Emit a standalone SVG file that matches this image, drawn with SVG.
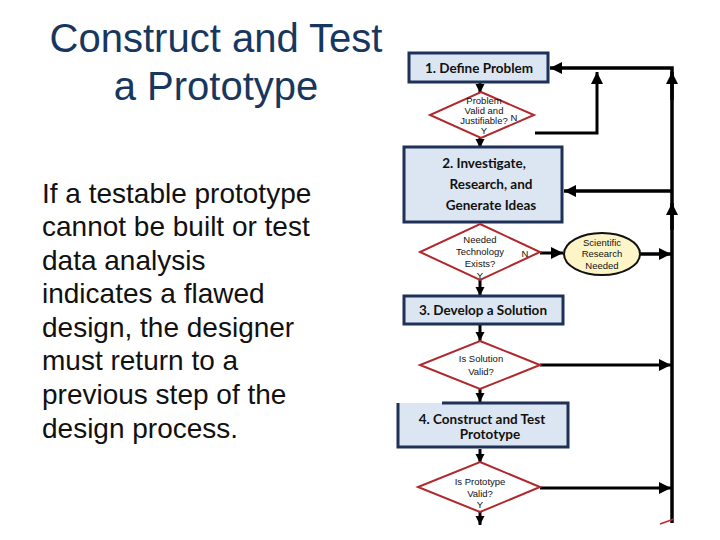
<svg xmlns="http://www.w3.org/2000/svg" width="720" height="540" viewBox="0 0 720 540">
<style>
.title{font-family:"Liberation Sans",Arial,sans-serif;font-size:40px;fill:#17375e;text-anchor:middle}
.body{font-family:"Liberation Sans",Arial,sans-serif;font-size:28px;fill:#111}
.box{fill:#dce6f2;stroke:#1f3156;stroke-width:3}
.bt{font-family:Lato,"Liberation Sans",sans-serif;font-weight:bold;font-size:13.5px;fill:#111;text-anchor:middle}
.dia{fill:#fff;stroke:#b0282c;stroke-width:2}
.dt{font-family:"Liberation Sans",Arial,sans-serif;font-size:9.5px;fill:#111;text-anchor:middle}
.ell{fill:#fdf5c8;stroke:#111;stroke-width:2}
.ln{fill:none;stroke:#000;stroke-width:3.5}
.thin{fill:none;stroke:#000;stroke-width:3}
</style>
<defs>
<marker id="ah" viewBox="0 0 10 10" refX="10" refY="5" markerUnits="userSpaceOnUse" markerWidth="13" markerHeight="12" orient="auto">
<path d="M0,0 L10,5 L0,10 z" fill="#000"/>
</marker>
<marker id="ahs" viewBox="0 0 10 10" refX="10" refY="5" markerUnits="userSpaceOnUse" markerWidth="9" markerHeight="10" orient="auto">
<path d="M0,0 L10,5 L0,10 z" fill="#000"/>
</marker>
</defs>

<g id="title">
<text class="title" x="216" y="52">Construct and Test</text>
<text class="title" x="216" y="100">a Prototype</text>
</g>
<g id="bodytext">
<text class="body" x="42" y="203">If a testable prototype</text>
<text class="body" x="42" y="236">cannot be built or test</text>
<text class="body" x="42" y="270">data analysis</text>
<text class="body" x="42" y="303">indicates a flawed</text>
<text class="body" x="42" y="337">design, the designer</text>
<text class="body" x="42" y="370">must return to a</text>
<text class="body" x="42" y="404">previous step of the</text>
<text class="body" x="42" y="438">design process.</text>
</g>

<g id="connectors">
<path class="ln" d="M672,523 V68 H550" marker-end="url(#ah)"/>
<path class="ln" d="M672,100 V72" marker-end="url(#ah)"/>
<path class="ln" d="M672,230 V203" marker-end="url(#ah)"/>
<path class="thin" d="M535,133 H597 V72" marker-end="url(#ah)"/>
<path class="ln" d="M672,191 H564" marker-end="url(#ah)"/>
<path class="thin" d="M540,253 H563" marker-end="url(#ah)"/>
<path class="ln" d="M640,254 H671" marker-end="url(#ah)"/>
<path class="thin" d="M540,365 H671" marker-end="url(#ah)"/>
<path class="thin" d="M540,488 H671" marker-end="url(#ah)"/>
<path class="thin" d="M480,82 V93" marker-end="url(#ahs)"/>
<path class="thin" d="M480,138 V148" marker-end="url(#ahs)"/>
<path class="thin" d="M480,280 V296" marker-end="url(#ahs)"/>
<path class="thin" d="M480,325 V341" marker-end="url(#ahs)"/>
<path class="thin" d="M480,389 V402" marker-end="url(#ahs)"/>
<path class="thin" d="M480,449 V463" marker-end="url(#ahs)"/>
<path class="thin" d="M480,512 V525" marker-end="url(#ahs)"/>
<path d="M660,524 L674,519" stroke="#c0282c" stroke-width="1.5" fill="none"/>
</g>

<g id="box1">
<rect class="box" x="409" y="53" width="139" height="29"/>
<text class="bt" x="479" y="73">1. Define Problem</text>
</g>
<g id="dia1">
<polygon class="dia" points="481,92 534,115 481,138 430,115"/>
<text class="dt" x="484" y="104" font-size="8.5px">Problem</text>
<text class="dt" x="484" y="114" font-size="8.5px">Valid and</text>
<text class="dt" x="484" y="123.5" font-size="8.5px">Justifiable?</text>
<text class="dt" x="514" y="121">N</text>
<text class="dt" x="484" y="134" font-size="7.5px">Y</text>
</g>
<g id="box2">
<rect class="box" x="404" y="147" width="158" height="75"/>
<text class="bt" x="484" y="168">2. Investigate,</text>
<text class="bt" x="491" y="189">Research, and</text>
<text class="bt" x="491" y="210">Generate Ideas</text>
</g>
<g id="dia2">
<polygon class="dia" points="480,224 540,252 480,280 420,252"/>
<text class="dt" x="480" y="243">Needed</text>
<text class="dt" x="480" y="255">Technology</text>
<text class="dt" x="480" y="267">Exists?</text>
<text class="dt" x="525" y="257" font-size="9px">N</text>
<text class="dt" x="480" y="279" font-size="8px">Y</text>
</g>
<g id="research">
<ellipse class="ell" cx="602" cy="254" rx="38" ry="21"/>
<text class="dt" x="602" y="246">Scientific</text>
<text class="dt" x="602" y="257">Research</text>
<text class="dt" x="602" y="269">Needed</text>
</g>
<g id="box3">
<rect class="box" x="404" y="296" width="159" height="28"/>
<text class="bt" x="483" y="315">3. Develop a Solution</text>
</g>
<g id="dia3">
<polygon class="dia" points="480,341 540,365 480,389 420,365"/>
<text class="dt" x="481" y="362">Is Solution</text>
<text class="dt" x="481" y="375">Valid?</text>
</g>
<g id="box4">
<rect class="box" x="398" y="403" width="170" height="44" style="stroke-dasharray:0 44 386"/>
<text class="bt" x="482" y="424">4. Construct and Test</text>
<text class="bt" x="490" y="439">Prototype</text>
</g>
<g id="dia4">
<polygon class="dia" points="480,462 540,487 480,512 418,487"/>
<text class="dt" x="480" y="485">Is Prototype</text>
<text class="dt" x="480" y="497">Valid?</text>
<text class="dt" x="480" y="508">Y</text>
</g>
</svg>
